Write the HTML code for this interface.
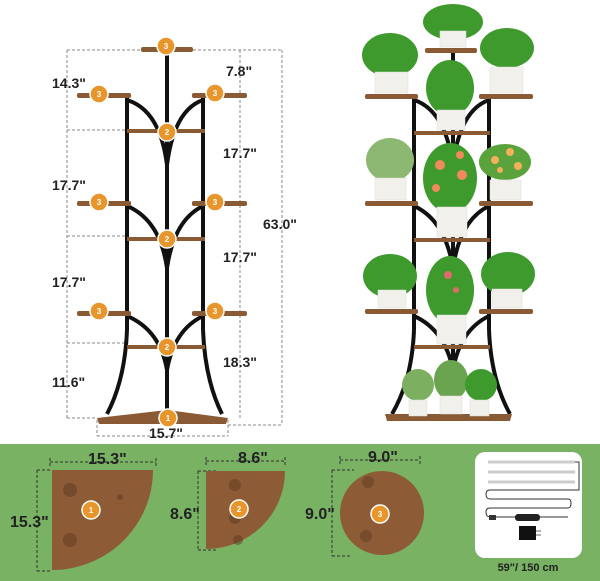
<!DOCTYPE html>
<html><head><meta charset="utf-8"><style>
html,body{margin:0;padding:0;background:#fff;width:600px;height:581px;overflow:hidden}
svg{display:block}
text{font-family:"Liberation Sans",sans-serif;font-weight:bold;fill:#222}
</style></head><body>
<svg width="600" height="581" viewBox="0 0 600 581" xmlns="http://www.w3.org/2000/svg">
<defs>
<g id="b3"><circle r="9" fill="#e8962b" stroke="#fff" stroke-width="1.5"/></g>
</defs>
<rect x="0" y="0" width="600" height="444" fill="#fff"/>
<rect x="0" y="444" width="600" height="137" fill="#78b262"/>

<!-- LEFT STAND -->
<g stroke="#8a8a8a" stroke-width="1" stroke-dasharray="3,2" fill="none">
<line x1="67" y1="50" x2="67" y2="418"/>
<line x1="67" y1="50" x2="141" y2="50"/>
<line x1="67" y1="130" x2="127" y2="130"/>
<line x1="67" y1="236" x2="127" y2="236"/>
<line x1="67" y1="343" x2="127" y2="343"/>
<line x1="67" y1="418" x2="97" y2="418"/>
<line x1="240" y1="50" x2="240" y2="420"/>
<line x1="193" y1="50" x2="282" y2="50"/>
<line x1="282" y1="50" x2="282" y2="425"/>
<line x1="228" y1="425" x2="282" y2="425"/>
<line x1="97" y1="420" x2="97" y2="436"/>
<line x1="97" y1="436" x2="228" y2="436"/>
<line x1="228" y1="420" x2="228" y2="436"/>
</g>
<g stroke="#111" fill="none" stroke-width="4">
<line x1="167" y1="52" x2="167" y2="412"/>
<line x1="127" y1="98" x2="127" y2="330"/>
<line x1="203" y1="98" x2="203" y2="330"/>
<path d="M127 330 Q125 380 107 414"/>
<path d="M203 330 Q205 380 222 414"/>
<path d="M127 100 Q160 110 167 165 Q174 110 203 100"/>
<path d="M127 206 Q160 220 167 268 Q174 220 203 206"/>
<path d="M127 316 Q160 330 167 370 Q174 330 203 316"/>
</g>
<g fill="#8a5a34">
<rect x="141" y="47" width="52" height="5" rx="2"/>
<rect x="77" y="93" width="54" height="5" rx="2"/>
<rect x="192" y="93" width="55" height="5" rx="2"/>
<rect x="127" y="129" width="78" height="4"/>
<rect x="77" y="201" width="54" height="5" rx="2"/>
<rect x="192" y="201" width="55" height="5" rx="2"/>
<rect x="127" y="237" width="78" height="4"/>
<rect x="77" y="311" width="54" height="5" rx="2"/>
<rect x="192" y="311" width="55" height="5" rx="2"/>
<rect x="127" y="345" width="78" height="4"/>
<path d="M97 418 L167 410 L228 418 L226 424 L99 424 Z"/>
</g>
<g>
<use href="#b3" x="166" y="46"/><use href="#b3" x="99" y="94"/><use href="#b3" x="215" y="93"/>
<use href="#b3" x="167" y="132"/><use href="#b3" x="99" y="202"/><use href="#b3" x="215" y="202"/>
<use href="#b3" x="167" y="239"/><use href="#b3" x="99" y="311"/><use href="#b3" x="215" y="311"/>
<use href="#b3" x="167" y="347"/><use href="#b3" x="168" y="418"/>
</g>
<g font-size="8" text-anchor="middle">
<text x="166" y="49" style="fill:#fff">3</text><text x="99" y="97" style="fill:#fff">3</text><text x="215" y="96" style="fill:#fff">3</text>
<text x="167" y="135" style="fill:#fff">2</text><text x="99" y="205" style="fill:#fff">3</text><text x="215" y="205" style="fill:#fff">3</text>
<text x="167" y="242" style="fill:#fff">2</text><text x="99" y="314" style="fill:#fff">3</text><text x="215" y="314" style="fill:#fff">3</text>
<text x="167" y="350" style="fill:#fff">2</text><text x="168" y="421" style="fill:#fff">1</text>
</g>
<g font-size="14">
<text x="52" y="88">14.3"</text>
<text x="226" y="76">7.8"</text>
<text x="223" y="158">17.7"</text>
<text x="52" y="190">17.7"</text>
<text x="263" y="229">63.0"</text>
<text x="223" y="262">17.7"</text>
<text x="52" y="287">17.7"</text>
<text x="223" y="367">18.3"</text>
<text x="52" y="387">11.6"</text>
<text x="149" y="438">15.7"</text>
</g>

<!-- RIGHT STAND -->
<g stroke="#111" fill="none" stroke-width="4">
<line x1="453" y1="52" x2="453" y2="410"/>
<line x1="414" y1="98" x2="414" y2="330"/>
<line x1="489" y1="98" x2="489" y2="330"/>
<path d="M414 330 Q412 380 392 414"/>
<path d="M489 330 Q491 380 510 414"/>
<path d="M414 100 Q445 110 453 165 Q460 110 489 100"/>
<path d="M414 206 Q445 220 453 268 Q460 220 489 206"/>
<path d="M414 316 Q445 330 453 370 Q460 330 489 316"/>
</g>
<g fill="#8a5a34">
<rect x="425" y="48" width="52" height="5" rx="2"/>
<rect x="365" y="94" width="53" height="5" rx="2"/>
<rect x="479" y="94" width="54" height="5" rx="2"/>
<rect x="414" y="131" width="76" height="4"/>
<rect x="365" y="201" width="53" height="5" rx="2"/>
<rect x="479" y="201" width="54" height="5" rx="2"/>
<rect x="414" y="238" width="76" height="4"/>
<rect x="365" y="309" width="53" height="5" rx="2"/>
<rect x="479" y="309" width="54" height="5" rx="2"/>
<rect x="414" y="345" width="76" height="4"/>
<path d="M385 414 L512 414 L510 421 L387 421 Z"/>
</g>
<g fill="#3f9a2e">
<ellipse cx="453" cy="22" rx="30" ry="18"/>
<ellipse cx="390" cy="55" rx="28" ry="22"/>
<ellipse cx="507" cy="48" rx="27" ry="20"/>
<ellipse cx="450" cy="88" rx="24" ry="28"/>
<ellipse cx="390" cy="160" rx="24" ry="22" fill="#8cb872"/>
<ellipse cx="505" cy="162" rx="26" ry="18" fill="#5aa23c"/>
<ellipse cx="450" cy="178" rx="27" ry="35"/>
<ellipse cx="390" cy="276" rx="27" ry="22"/>
<ellipse cx="508" cy="274" rx="27" ry="22"/>
<ellipse cx="450" cy="290" rx="24" ry="34"/>
<ellipse cx="418" cy="385" rx="16" ry="16" fill="#7cb060"/>
<ellipse cx="451" cy="380" rx="17" ry="20" fill="#6aa44e"/>
<ellipse cx="481" cy="385" rx="16" ry="16"/>
</g>
<g fill="#f08a5c">
<circle cx="440" cy="165" r="5"/><circle cx="462" cy="175" r="5"/><circle cx="436" cy="188" r="4"/><circle cx="460" cy="155" r="4"/>
<circle cx="495" cy="160" r="4" fill="#f2b05a"/><circle cx="510" cy="152" r="4" fill="#f2b05a"/><circle cx="518" cy="166" r="4" fill="#f2b05a"/><circle cx="500" cy="170" r="3" fill="#f2b05a"/>
<circle cx="448" cy="275" r="4" fill="#e06a6a"/><circle cx="456" cy="290" r="3" fill="#e06a6a"/>
</g>
<g fill="#f2f0ea" stroke="#ddd" stroke-width="0.5">
<rect x="440" y="31" width="26" height="16"/>
<rect x="375" y="72" width="33" height="21"/>
<rect x="490" y="67" width="33" height="26"/>
<rect x="437" y="110" width="28" height="20"/>
<rect x="375" y="178" width="31" height="22"/>
<rect x="490" y="180" width="31" height="20"/>
<rect x="437" y="207" width="30" height="30"/>
<rect x="378" y="290" width="28" height="18"/>
<rect x="492" y="289" width="30" height="19"/>
<rect x="437" y="315" width="29" height="29"/>
<rect x="409" y="400" width="18" height="16"/>
<rect x="440" y="396" width="22" height="18"/>
<rect x="470" y="400" width="19" height="16"/>
</g>

<!-- BOTTOM SHAPES -->
<g stroke="#333" stroke-width="1" stroke-dasharray="3,2" fill="none">
<line x1="50" y1="462" x2="156" y2="462"/><line x1="50" y1="458" x2="50" y2="466"/><line x1="156" y1="458" x2="156" y2="466"/>
<line x1="37" y1="470" x2="37" y2="571"/><line x1="37" y1="470" x2="52" y2="470"/><line x1="37" y1="571" x2="52" y2="571"/>
<line x1="206" y1="461" x2="285" y2="461"/><line x1="206" y1="457" x2="206" y2="465"/><line x1="285" y1="457" x2="285" y2="465"/>
<line x1="198" y1="471" x2="198" y2="550"/><line x1="198" y1="471" x2="216" y2="471"/><line x1="198" y1="550" x2="216" y2="550"/>
<line x1="340" y1="460" x2="420" y2="460"/><line x1="340" y1="456" x2="340" y2="464"/><line x1="420" y1="456" x2="420" y2="464"/>
<line x1="332" y1="470" x2="332" y2="556"/><line x1="332" y1="470" x2="354" y2="470"/><line x1="332" y1="556" x2="352" y2="556"/>
</g>
<g fill="#8d5c36">
<path d="M52 470 L153 470 A101 100 0 0 1 52 570 Z"/>
<path d="M206 471 L285 471 A79 78 0 0 1 206 549 Z"/>
<ellipse cx="382" cy="513" rx="42" ry="42"/>
</g>
<g fill="#5e3a22" opacity="0.5">
<circle cx="70" cy="490" r="7"/><circle cx="70" cy="540" r="7"/><circle cx="120" cy="497" r="3"/>
<circle cx="235" cy="485" r="6"/><circle cx="235" cy="518" r="6"/><circle cx="238" cy="540" r="5"/>
<circle cx="368" cy="482" r="6"/><circle cx="366" cy="536" r="6"/>
</g>
<circle cx="91" cy="510" r="9" fill="#e8962b" stroke="#fff" stroke-width="1.5"/>
<circle cx="239" cy="509" r="9" fill="#e8962b" stroke="#fff" stroke-width="1.5"/>
<circle cx="380" cy="514" r="9" fill="#e8962b" stroke="#fff" stroke-width="1.5"/>
<g font-size="8" text-anchor="middle">
<text x="91" y="513" style="fill:#fff">1</text><text x="239" y="512" style="fill:#fff">2</text><text x="380" y="517" style="fill:#fff">3</text>
</g>
<g font-size="16">
<text x="88" y="464">15.3"</text>
<text x="10" y="527">15.3"</text>
<text x="238" y="463">8.6"</text>
<text x="170" y="519">8.6"</text>
<text x="368" y="462">9.0"</text>
<text x="305" y="519">9.0"</text>
</g>

<!-- LED box -->
<rect x="475" y="452" width="107" height="106" rx="10" fill="#fff"/>
<g stroke="#ccc" stroke-width="3">
<line x1="488" y1="462" x2="575" y2="462"/>
<line x1="488" y1="472" x2="575" y2="472"/>
<line x1="488" y1="482" x2="575" y2="482"/>
</g>
<g stroke="#333" stroke-width="1" fill="none">
<path d="M575 462 L579 462 L579 490 L490 490 Q486 490 486 494 Q486 499 490 499 L568 499 Q571 499 571 503 Q571 508 568 508 L490 508 Q486 508 486 512 Q486 517 490 517 L568 517"/>
</g>
<rect x="489" y="515" width="7" height="5" fill="#333"/>
<rect x="515" y="514" width="25" height="7" rx="3" fill="#222"/>
<rect x="519" y="526" width="17" height="14" fill="#111"/>
<line x1="536" y1="531" x2="541" y2="531" stroke="#666"/><line x1="536" y1="535" x2="541" y2="535" stroke="#666"/>
<text x="528" y="571" font-size="11" text-anchor="middle">59"/ 150 cm</text>
</svg>
</body></html>
